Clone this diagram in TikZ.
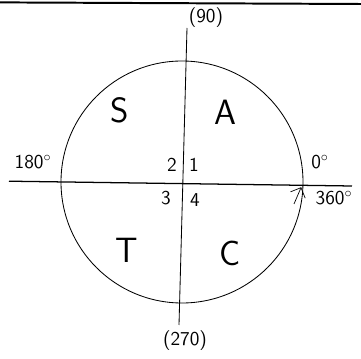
\documentclass[tikz,border=0pt]{standalone}
\usetikzlibrary{arrows.meta}
\tikzset{
  every picture/.style={font=\sffamily, line width=0.6pt},
  quad/.style={font=\sffamily\fontsize{25}{25}\selectfont},
  num/.style={font=\sffamily\fontsize{14}{14}\selectfont, inner sep=1pt},
  angle/.style={font=\sffamily\fontsize{14}{14}\selectfont, inner sep=1pt},
  arrow/.style={-{Straight Barb[length=2mm]}, line width=0.5pt},
}
\begin{document}
\begin{tikzpicture}
  \useasboundingbox (-4.55,-4.425) rectangle (4.475,4.55);
  % page edge at the top
  \draw[line width=1.4pt] (-4.55,4.49) -- (4.475,4.45);
  % unit circle and axes
  \draw (0,0) circle (3.025);
  \coordinate (xl) at (-4.325,0.02);
  \coordinate (xr) at (4.25,-0.1);
  \coordinate (yt) at (0.125,3.85);
  \coordinate (yb) at (-0.075,-3.575);
  \coordinate (zero) at (2.98,-0.13);
  \coordinate (tail) at (2.8,-0.55);
  \draw[line width=0.9pt] (xl) -- (xr);
  \draw (yt) -- (yb);
  % quadrant letters
  \node[quad] (s) at (-1.55,1.8) {S};
  \node[quad] (a) at (1.075,1.75) {A};
  \node[quad] (t) at (-1.375,-1.7) {T};
  \node[quad] (c) at (1.2,-1.775) {C};
  % quadrant numbers
  \node[num] (q2) at (-0.25,0.425) {2};
  \node[num] (q1) at (0.3,0.425) {1};
  \node[num] (q3) at (-0.4,-0.4) {3};
  \node[num] (q4) at (0.325,-0.45) {4};
  % angles
  \node[angle] (d180) at (-3.725,0.5) {180$^\circ$};
  \node[angle] (d0) at (3.45,0.5) {0$^\circ$};
  \node[angle] (d360) at (3.8,-0.4) {360$^\circ$};
  \node[angle] (d90) at (0.6,4.1) {(90)};
  \node[angle] (d270) at (0.075,-3.975) {(270)};
  \draw[arrow] (tail) -- (zero);
\end{tikzpicture}
\end{document}
